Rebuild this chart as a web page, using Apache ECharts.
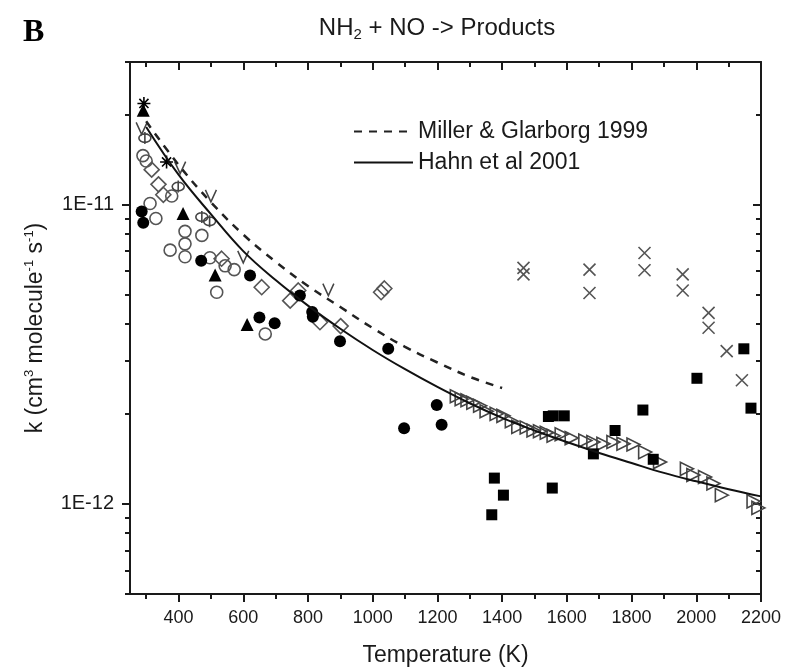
<!DOCTYPE html>
<html>
<head>
<meta charset="utf-8">
<script src="https://cdn.jsdelivr.net/npm/echarts@6/dist/echarts.min.js"></script>
<style>
  html, body { margin: 0; padding: 0; background: #fff; }
  #chart { width: 787px; height: 672px; }
</style>
</head>
<body>
<div id="chart"></div>
<script>
// tick values
const majorT = [400, 600, 800, 1000, 1200, 1400, 1600, 1800, 2000, 2200]
const minorT = [300, 500, 700, 900, 1100, 1300, 1500, 1700, 1900, 2100]
const majorK = [1e-12, 1e-11]
const minorK = [5e-13, 6e-13, 7e-13, 8e-13, 9e-13, 2e-12, 3e-12, 4e-12, 5e-12, 6e-12, 7e-12, 8e-12, 9e-12, 2e-11, 3e-11]

// model curves
const millerT = [300, 400, 500, 600, 700, 800, 900, 1000, 1100, 1200, 1300, 1400]
const millerK = [1.9e-11, 1.36e-11, 1.02e-11, 7.95e-12, 6.45e-12, 5.35e-12, 4.55e-12, 3.87e-12, 3.35e-12, 2.97e-12, 2.66e-12, 2.44e-12]
const hahnT = [300, 400, 500, 600, 700, 800, 900, 1000, 1100, 1200, 1300, 1400, 1500, 1600, 1700, 1800, 1900, 2000, 2100, 2200]
const hahnK = [1.82e-11, 1.26e-11, 9.3e-12, 7.0e-12, 5.6e-12, 4.6e-12, 3.85e-12, 3.27e-12, 2.82e-12, 2.46e-12, 2.17e-12, 1.94e-12, 1.76e-12, 1.61e-12, 1.48e-12, 1.37e-12, 1.27e-12, 1.19e-12, 1.12e-12, 1.06e-12]

// measurements [T, k]
const filledCircles = [[286, 9.5e-12], [291, 8.7e-12], [470, 6.5e-12], [621, 5.8e-12], [650, 4.2e-12], [697, 4.02e-12], [775, 4.97e-12], [813, 4.38e-12], [815, 4.22e-12], [899, 3.5e-12], [1048, 3.3e-12], [1097, 1.79e-12], [1198, 2.14e-12], [1213, 1.84e-12]]
const openCircles = [[290, 1.46e-11], [300, 1.4e-11], [312, 1.01e-11], [330, 9.0e-12], [374, 7.05e-12], [379, 1.07e-11], [420, 8.15e-12], [420, 7.4e-12], [420, 6.7e-12], [472, 7.9e-12], [497, 6.65e-12], [518, 5.1e-12], [544, 6.25e-12], [572, 6.07e-12], [668, 3.7e-12]]
const openDiamonds = [[317, 1.31e-11], [338, 1.17e-11], [353, 1.08e-11], [533, 6.6e-12], [657, 5.3e-12], [745, 4.78e-12], [770, 5.17e-12], [837, 4.05e-12], [901, 3.93e-12], [1026, 5.1e-12], [1036, 5.25e-12]]
const filledTriangles = [[291, 2.07e-11], [414, 9.35e-12], [513, 5.82e-12], [612, 3.98e-12]]
const stars = [[293, 2.18e-11], [363, 1.39e-11]]
const vMarks = [[286, 1.8e-11], [405, 1.33e-11], [500, 1.07e-11], [600, 6.7e-12], [863, 5.2e-12]]
const crossedCircles = [[296, 1.67e-11], [399, 1.15e-11], [472, 9.1e-12], [496, 8.8e-12]]
const filledSquares = [[1368, 9.2e-13], [1376, 1.22e-12], [1404, 1.07e-12], [1543, 1.96e-12], [1555, 1.13e-12], [1558, 1.97e-12], [1592, 1.97e-12], [1682, 1.47e-12], [1749, 1.76e-12], [1835, 2.06e-12], [1867, 1.41e-12], [2002, 2.63e-12], [2147, 3.3e-12], [2169, 2.09e-12]]
const crosses = [[1466, 6.15e-12], [1466, 5.85e-12], [1670, 6.07e-12], [1670, 5.07e-12], [1840, 6.9e-12], [1840, 6.04e-12], [1958, 5.85e-12], [1958, 5.17e-12], [2038, 4.35e-12], [2038, 3.88e-12], [2094, 3.24e-12], [2141, 2.59e-12]]
const rightTriangles = [[1260, 2.29e-12], [1275, 2.24e-12], [1293, 2.22e-12], [1311, 2.18e-12], [1332, 2.13e-12], [1352, 2.04e-12], [1383, 2.0e-12], [1404, 1.97e-12], [1430, 1.89e-12], [1450, 1.81e-12], [1476, 1.8e-12], [1497, 1.76e-12], [1517, 1.75e-12], [1538, 1.73e-12], [1559, 1.69e-12], [1584, 1.71e-12], [1615, 1.66e-12], [1657, 1.63e-12], [1682, 1.61e-12], [1713, 1.59e-12], [1744, 1.61e-12], [1775, 1.59e-12], [1806, 1.58e-12], [1842, 1.49e-12], [1888, 1.38e-12], [1971, 1.31e-12], [1991, 1.25e-12], [2027, 1.23e-12], [2053, 1.17e-12], [2079, 1.07e-12], [2177, 1.02e-12], [2192, 9.7e-13]]

const FONT = '"Liberation Sans", Arial, sans-serif'
const INK = '#1a1a1a'

const chart = echarts.init(document.getElementById('chart'))

function xAx(position, ticks, len, extra) {
  return Object.assign({
    type: 'value', position: position, min: 250, max: 2200,
    axisLine: { show: false, onZero: false, lineStyle: { color: INK, width: 2 } },
    axisTick: { show: true, inside: position === 'top', customValues: ticks, length: len, lineStyle: { color: INK, width: 2 } },
    axisLabel: { show: false },
    splitLine: { show: false }
  }, extra || {})
}
function yAx(position, ticks, len, extra) {
  return Object.assign({
    type: 'log', logBase: 10, position: position, min: 5e-13, max: 3e-11,
    axisLine: { show: false, onZero: false, lineStyle: { color: INK, width: 2 } },
    axisTick: { show: true, inside: position === 'right', customValues: ticks, length: len, lineStyle: { color: INK, width: 2 } },
    axisLabel: { show: false },
    splitLine: { show: false }
  }, extra || {})
}

const openStyle = (c) => ({ color: 'rgba(0,0,0,0)', borderColor: c, borderWidth: 1.6, opacity: 1 })
const solidStyle = (c) => ({ color: c, opacity: 1 })

function scatter(data, symbol, size, itemStyle, extra) {
  return Object.assign({
    type: 'scatter', data: data, symbol: symbol, symbolSize: size,
    itemStyle: itemStyle, silent: true, z: 3
  }, extra || {})
}

chart.setOption({
  animation: false,
  title: [
    {
      text: '{a|NH}{s|2}{a| + NO -> Products}',
      left: 432, top: 10, textAlign: 'center',
      textStyle: {
        fontWeight: 'normal',
        rich: {
          a: { fontFamily: FONT, fontSize: 24, fontWeight: 'normal', color: INK },
          s: { fontFamily: FONT, fontSize: 15, fontWeight: 'normal', color: INK, padding: [12, 0, 0, 0] }
        }
      }
    },
    {
      text: 'B', left: 18, top: 12,
      textStyle: { fontFamily: '"Liberation Serif", serif', fontWeight: 'bold', fontSize: 32, color: '#000' }
    }
  ],
  legend: {
    orient: 'vertical', left: 353, top: 120, padding: 0,
    itemWidth: 59, itemHeight: 14, itemGap: 8,
    itemStyle: { opacity: 0 },
    data: ['Miller & Glarborg 1999', 'Hahn et al 2001'],
    textStyle: { fontFamily: FONT, fontSize: 23, color: INK }
  },
  grid: { left: 130, right: 26, top: 62, bottom: 77 },
  xAxis: [
    xAx('bottom', majorT, 8, {
      axisLine: { show: true, onZero: false, lineStyle: { color: INK, width: 2 } },
      axisLabel: { show: true, customValues: majorT, fontFamily: FONT, fontSize: 18, color: INK, margin: 15, formatter: v => String(v) },
      name: 'Temperature (K)', nameLocation: 'middle', nameGap: 50,
      nameTextStyle: { fontFamily: FONT, fontSize: 23, color: INK }
    }),
    xAx('bottom', minorT, 5),
    xAx('top', majorT, 8, { axisLine: { show: true, onZero: false, lineStyle: { color: INK, width: 2 } } }),
    xAx('top', minorT, 5)
  ],
  yAxis: [
    yAx('left', majorK, 8, {
      axisLine: { show: true, onZero: false, lineStyle: { color: INK, width: 2 } },
      axisLabel: {
        show: true, customValues: majorK, fontFamily: FONT, fontSize: 20, color: INK, margin: 16,
        formatter: v => Number(v).toExponential(0).toUpperCase().replace('E-0', 'E-')
      },
      name: 'k (cm{sup|3} molecule{sup|-1} s{sup|-1})', nameLocation: 'middle', nameGap: 82, nameRotate: 90,
      nameTextStyle: {
        fontFamily: FONT, fontSize: 23, color: INK,
        rich: { sup: { fontFamily: FONT, fontSize: 13, color: INK, padding: [0, 0, 12, 0] } }
      }
    }),
    yAx('left', minorK, 5),
    yAx('right', majorK, 8, { axisLine: { show: true, onZero: false, lineStyle: { color: INK, width: 2 } } }),
    yAx('right', minorK, 5)
  ],
  series: [
    {
      name: 'Miller & Glarborg 1999', type: 'line', smooth: 0.4, symbol: 'none', silent: true, z: 4,
      data: millerT.map((t, i) => [t, millerK[i]]),
      itemStyle: { color: 'rgba(0,0,0,0)', borderWidth: 0 },
      lineStyle: { color: '#222', width: 2.5, type: [8, 7] }
    },
    {
      name: 'Hahn et al 2001', type: 'line', smooth: 0.4, symbol: 'none', silent: true, z: 4,
      data: hahnT.map((t, i) => [t, hahnK[i]]),
      itemStyle: { color: 'rgba(0,0,0,0)', borderWidth: 0 },
      lineStyle: { color: '#111', width: 2 }
    },
    scatter(rightTriangles, 'triangle', 13, openStyle('#444'), { symbolRotate: -90 }),
    scatter(openCircles, 'circle', 12, openStyle('#555')),
    scatter(openDiamonds, 'diamond', 15, openStyle('#555')),
    scatter(crossedCircles, 'path://M5,0A5,5 0 1,1 5,10A5,5 0 1,1 5,0ZM5,-2L5,12', 12, openStyle('#444')),
    scatter(vMarks, 'path://M0,0L5,10L10,0', [11, 12], openStyle('#444')),
    scatter(crosses, 'path://M0,0L10,10M10,0L0,10', 12, openStyle('#555')),
    scatter(filledCircles, 'circle', 12, solidStyle('#000')),
    scatter(filledTriangles, 'triangle', 13, solidStyle('#000')),
    scatter(filledSquares, 'rect', 11, solidStyle('#000')),
    scatter(stars, 'path://M5,0L5,10M0,5L10,5M1.5,1.5L8.5,8.5M8.5,1.5L1.5,8.5', 13, openStyle('#000'))
  ]
})
</script>
</body>
</html>
